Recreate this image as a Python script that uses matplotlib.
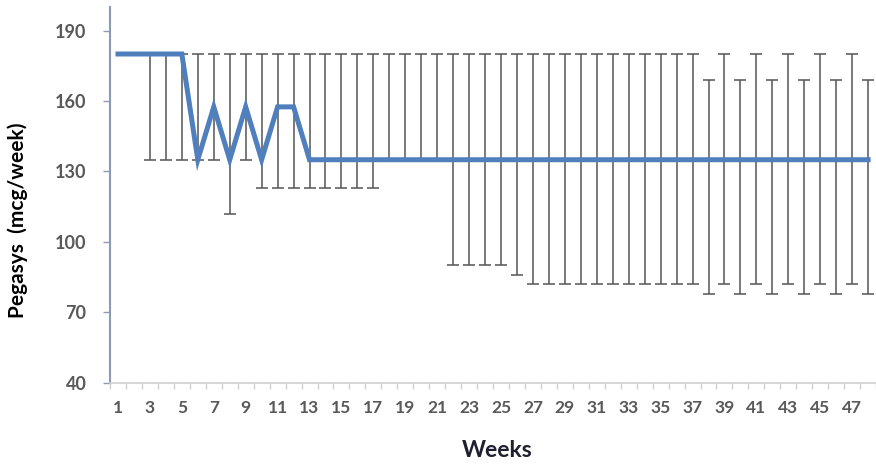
import numpy as np
import matplotlib.pyplot as plt
from matplotlib.ticker import FixedLocator

plt.rcParams['font.family'] = ['Lato', 'DejaVu Sans']

## the data
weeks = list(range(1, 49))
dose_mean = [180, 180, 180, 180, 180, 135, 157.5, 135, 157.5, 135,
             157.5, 157.5, 135, 135, 135, 135, 135, 135, 135, 135,
             135, 135, 135, 135, 135, 135, 135, 135, 135, 135,
             135, 135, 135, 135, 135, 135, 135, 135, 135, 135,
             135, 135, 135, 135, 135, 135, 135, 135]
dose_max = [180, 180, 180, 180, 180, 180, 180, 180, 180, 180,
            180, 180, 180, 180, 180, 180, 180, 180, 180, 180,
            180, 180, 180, 180, 180, 180, 180, 180, 180, 180,
            180, 180, 180, 180, 180, 180, 180, 169, 180, 169,
            180, 169, 180, 169, 180, 169, 180, 169]
dose_min = [180, 180, 135, 135, 135, 135, 135, 112, 135, 123,
            123, 123, 123, 123, 123, 123, 123, 135, 135, 135,
            135, 90, 90, 90, 90, 86, 82, 82, 82, 82,
            82, 82, 82, 82, 82, 82, 82, 78, 82, 78,
            82, 78, 82, 78, 82, 78, 82, 78]
xtick_weeks = list(range(1, 49, 2))

fig = plt.figure(figsize=(8.76, 4.67), dpi=100)
ax = fig.add_axes([0.1256, 0.18, 0.8745, 0.805])

x = np.array(weeks)
m = np.array(dose_mean)
hi = np.array(dose_max)
lo = np.array(dose_min)
has_err = (hi - lo) > 0

# range bars (min/max) behind the mean line
ax.errorbar(x[has_err], m[has_err],
            yerr=[m[has_err] - lo[has_err], hi[has_err] - m[has_err]],
            fmt='none', ecolor='#555555', elinewidth=1.1,
            capsize=4.3, capthick=1.1, zorder=2)
ax.plot(x, m, color='#4f7fbd', lw=3.6, solid_joinstyle='miter', zorder=3)

# axes
ax.set_xlim(0.5, 48.5)
ax.set_ylim(40, 200)
ax.set_yticks([40, 70, 100, 130, 160, 190])
ax.set_xticks(xtick_weeks)
ax.xaxis.set_minor_locator(FixedLocator(np.arange(0.5, 49, 1)))

for s in ['top', 'right']:
    ax.spines[s].set_visible(False)
ax.spines['left'].set_color('#8a9bb3')
ax.spines['left'].set_linewidth(1.5)
ax.spines['bottom'].set_color('#d0d0d0')
ax.spines['bottom'].set_linewidth(1.2)

ax.tick_params(axis='y', direction='out', length=5, width=1, color='#8a9bb3',
               labelsize=13, labelcolor='#595959', pad=12)
ax.tick_params(axis='x', which='major', length=0, labelsize=12.5,
               labelcolor='#595959', pad=12)
ax.tick_params(axis='x', which='minor', direction='out', length=4, width=1,
               color='#d0d0d0')
for lab in ax.get_xticklabels() + ax.get_yticklabels():
    lab.set_fontweight('bold')

ax.set_xlabel('Weeks', fontweight='bold', fontsize=16.5, color='#1f1f2f')
ax.set_ylabel('Pegasys  (mcg/week)', fontweight='bold', fontsize=15, color='black')
ax.xaxis.set_label_coords(0.505, -0.152)
ax.yaxis.set_label_coords(-0.107, 0.434)

fig.savefig('out.png', dpi=100)
